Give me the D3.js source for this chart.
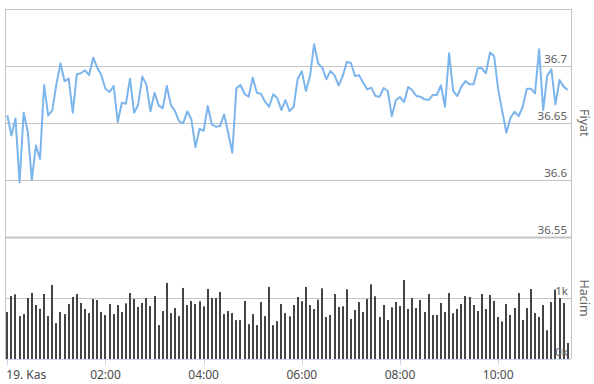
<!DOCTYPE html>
<html>
<head>
<meta charset="utf-8">
<script src="https://cdn.jsdelivr.net/npm/d3@7"></script>
<style>
  body { margin: 0; background: white; }
  svg { display: block; font-family: "Noto Sans", "DejaVu Sans", sans-serif; }
</style>
</head>
<body>
<div id="chart_area"></div>
<script>

// Sampling: one point every 5 minutes, starting 19 Nov 00:00
var stepMinutes = 5;

// Price (Fiyat) per 5 minutes
var prices = [36.6567, 36.6389, 36.6538, 36.598, 36.6588, 36.6424, 36.6, 36.6301, 36.6184, 36.683,
  36.6564, 36.6608, 36.6836, 36.7018, 36.6863, 36.6886, 36.6588, 36.6924, 36.6933, 36.6959,
  36.6918, 36.707, 36.6982, 36.6915, 36.6798, 36.6769, 36.6822, 36.6506, 36.6675, 36.6667,
  36.6886, 36.6588, 36.6658, 36.6904, 36.6836, 36.66, 36.6763, 36.6652, 36.6626, 36.6822,
  36.6652, 36.6602, 36.6512, 36.6497, 36.66, 36.6529, 36.6287, 36.6447, 36.643, 36.6646,
  36.6485, 36.6465, 36.6471, 36.6573, 36.6412, 36.6237, 36.6801, 36.683, 36.6754, 36.6728,
  36.6895, 36.6763, 36.6754, 36.6684, 36.664, 36.6749, 36.6716, 36.6611, 36.6699, 36.6602,
  36.664, 36.6886, 36.695, 36.6778, 36.6909, 36.7187, 36.7018, 36.6982, 36.688, 36.6953,
  36.6915, 36.6827, 36.6909, 36.7032, 36.7023, 36.6909, 36.6915, 36.6851, 36.6792, 36.6807,
  36.6734, 36.6728, 36.6804, 36.6778, 36.6558, 36.6699, 36.6725, 36.6681, 36.6813, 36.6784,
  36.6734, 36.6728, 36.6705, 36.6699, 36.6743, 36.6743, 36.6827, 36.664, 36.7108, 36.6778,
  36.6734, 36.6816, 36.6865, 36.6836, 36.6836, 36.6977, 36.6977, 36.6933, 36.7114, 36.7085,
  36.6792, 36.6602, 36.6412, 36.6544, 36.6596, 36.6558, 36.664, 36.6798, 36.6798, 36.6757,
  36.7143, 36.6611, 36.6915, 36.6968, 36.6661, 36.6874, 36.6816, 36.6787];

// Volume (Hacim) per 5 minutes
var volumes = [769, 1033, 1060, 703, 736, 1000, 1082, 885, 824, 1066,
  703, 1214, 588, 769, 736, 901, 1016, 1066, 918, 819,
  753, 984, 967, 769, 720, 901, 736, 885, 769, 912,
  1082, 984, 852, 918, 1000, 868, 1033, 555, 786, 1247,
  753, 835, 703, 1165, 885, 951, 901, 945, 863, 1148,
  1000, 1000, 1099, 736, 786, 753, 637, 637, 951, 571,
  736, 555, 934, 703, 1181, 555, 621, 901, 753, 699,
  885, 1016, 945, 1180, 885, 820, 973, 1158, 689, 721,
  1066, 852, 863, 1142, 656, 803, 934, 770, 984, 1224,
  1027, 689, 885, 639, 847, 934, 869, 1295, 820, 1000,
  836, 967, 770, 1066, 721, 721, 918, 770, 1082, 749,
  820, 902, 1033, 1016, 885, 787, 1066, 820, 1049, 951,
  689, 617, 902, 721, 836, 1082, 639, 836, 1148, 754,
  689, 885, 470, 934, 1137, 1000, 918, 262];

// Axis ticks
var timeTicks = [0, 120, 240, 360, 480, 600];   // minutes after midnight
var timeLabels = ["19. Kas", "02:00", "04:00", "06:00", "08:00", "10:00"];
var priceTicks = [36.55, 36.6, 36.65, 36.7];
var priceLabels = ["36.55", "36.6", "36.65", "36.7"];
var volumeTicks = [0, 1000];
var volumeLabels = ["0k", "1k"];

window.onload = function() {
  draw_chart();
};


function draw_chart() {

  var svgW = 594;
  var svgH = 384;
  var plot = {left: 5, right: 571, top: 8.5};
  var pricePane = {top: 8.5, bottom: 237};
  var volumePane = {top: 237, bottom: 359};
  var gridColor = "#c4c4c4";
  var axisColor = "#ccd6eb";

  // Build point records from the arrays
  var data = prices.map(function(p, i) {
    return {t: i * stepMinutes, price: p, volume: volumes[i]};
  });

  // Scales
  var xScale = d3.scaleLinear()
                  .domain([-2.8, 689])
                  .range([plot.left, plot.right]);

  var yPrice = d3.scaleLinear()
                  .domain([36.55, 36.75])
                  .range([pricePane.bottom, pricePane.top]);

  var yVolume = d3.scaleLinear()
                  .domain([0, 2000])
                  .range([volumePane.bottom, volumePane.top]);

  var svg = d3.select("#chart_area")
              .append("svg")
                .attr("width", svgW)
                .attr("height", svgH);

  function crisp(v) { return Math.round(v) + 0.5; }

  // Price gridlines
  svg.append("g")
      .selectAll("line")
      .data(priceTicks.concat([36.75]))
      .enter()
      .append("line")
        .attr("x1", plot.left)
        .attr("x2", plot.right)
        .attr("y1", function(d) { return crisp(yPrice(d)); })
        .attr("y2", function(d) { return crisp(yPrice(d)); })
        .attr("stroke", gridColor)
        .attr("stroke-width", function(d) { return d == 36.55 ? 2 : 1; });

  // Volume gridline (1k)
  svg.append("line")
      .attr("x1", plot.left)
      .attr("x2", plot.right)
      .attr("y1", crisp(yVolume(1000)))
      .attr("y2", crisp(yVolume(1000)))
      .attr("stroke", gridColor);

  // Left and right borders
  [plot.left, plot.right].forEach(function(x) {
    svg.append("line")
        .attr("x1", crisp(x))
        .attr("x2", crisp(x))
        .attr("y1", pricePane.top)
        .attr("y2", volumePane.bottom)
        .attr("stroke", gridColor);
  });

  // Volume bars
  svg.append("g")
      .selectAll("rect")
      .data(data)
      .enter()
      .append("rect")
        .attr("x", function(d) { return Math.round(xScale(d.t)) - 1; })
        .attr("y", function(d) { return yVolume(d.volume); })
        .attr("width", 2)
        .attr("height", function(d) { return yVolume(0) - yVolume(d.volume); })
        .attr("fill", "#434348");

  // Price line
  var line = d3.line()
                .x(function(d) { return xScale(d.t); })
                .y(function(d) { return yPrice(d.price); });

  svg.append("path")
      .datum(data)
      .attr("d", line)
      .attr("fill", "none")
      .attr("stroke", "#7cb5ec")
      .attr("stroke-width", 2)
      .attr("stroke-linejoin", "round");

  // X axis line and ticks
  svg.append("line")
      .attr("x1", plot.left)
      .attr("x2", plot.right)
      .attr("y1", crisp(volumePane.bottom))
      .attr("y2", crisp(volumePane.bottom))
      .attr("stroke", axisColor);

  svg.append("g")
      .selectAll("line")
      .data(timeTicks)
      .enter()
      .append("line")
        .attr("x1", function(d) { return crisp(xScale(d)); })
        .attr("x2", function(d) { return crisp(xScale(d)); })
        .attr("y1", volumePane.bottom)
        .attr("y2", volumePane.bottom + 6)
        .attr("stroke", axisColor);

  svg.append("g")
      .selectAll("text")
      .data(timeTicks)
      .enter()
      .append("text")
        .attr("x", function(d, i) { return i == 0 ? xScale(d) - 1 : xScale(d); })
        .attr("y", 379)
        .style("text-anchor", function(d, i) { return i == 0 ? "start" : "middle"; })
        .style("font-size", "12px")
        .attr("fill", "#4a4a4a")
        .text(function(d, i) { return timeLabels[i]; });

  // Price labels
  svg.append("g")
      .selectAll("text")
      .data(priceTicks)
      .enter()
      .append("text")
        .attr("x", 567)
        .attr("y", function(d) { return yPrice(d) - 3; })
        .style("text-anchor", "end")
        .style("font-size", "11.5px")
        .attr("fill", "#606060")
        .text(function(d, i) { return priceLabels[i]; });

  // Volume labels
  svg.append("g")
      .selectAll("text")
      .data(volumeTicks)
      .enter()
      .append("text")
        .attr("x", 568)
        .attr("y", function(d) { return yVolume(d) - 3; })
        .style("text-anchor", "end")
        .style("font-size", "11.5px")
        .attr("fill", "#606060")
        .text(function(d, i) { return volumeLabels[i]; });

  // Axis titles
  var titles = [{text: "Fiyat", y: (pricePane.top + pricePane.bottom) / 2},
                {text: "Hacim", y: (volumePane.top + volumePane.bottom) / 2}];

  svg.append("g")
      .selectAll("text")
      .data(titles)
      .enter()
      .append("text")
        .attr("transform", function(d) { return "translate(580," + d.y + ") rotate(90)"; })
        .style("text-anchor", "middle")
        .style("font-size", "12.5px")
        .attr("fill", "#666666")
        .text(function(d) { return d.text; });
};
</script>
</body>
</html>
